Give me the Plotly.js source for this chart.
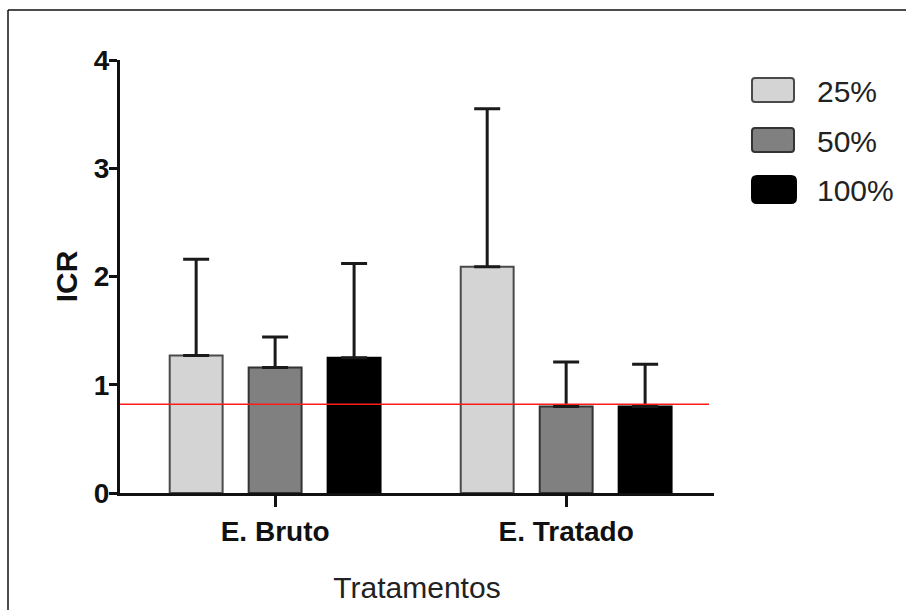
<!DOCTYPE html>
<html>
<head>
<meta charset="utf-8">
<script src="https://cdn.plot.ly/plotly-3.0.1.min.js"></script>
<style>
  html, body { margin: 0; padding: 0; background: #ffffff; }
  #chart { width: 906px; height: 610px; }
</style>
</head>
<body>
<div id="chart"></div>
<script>
// ---- data ----
const categories = ['E. Bruto', 'E. Tratado'];
const seriesNames = ['25%', '50%', '100%'];
const values25 = [1.27, 2.09];
const values50 = [1.16, 0.80];
const values100 = [1.25, 0.80];
const err25 = [0.89, 1.46];
const err50 = [0.28, 0.41];
const err100 = [0.87, 0.39];
const yTickVals = [0, 1, 2, 3, 4];
const yTickText = ['0', '1', '2', '3', '4'];
const refLine = 0.82;

// ---- styling ----
const W = 906, H = 610;
const M = { l: 120, r: 192, t: 60, b: 117 };
const PW = W - M.l - M.r, PH = H - M.t - M.b;
const px2x = p => (p - M.l) / PW;
const px2y = p => (H - M.b - p) / PH;
const FONT = '"Liberation Sans", Arial, Helvetica, sans-serif';

const fills = ['#d4d4d4', '#808080', '#000000'];
const borders = ['#4a4a4a', '#333333', '#000000'];
const vals = [values25, values50, values100];
const errs = [err25, err50, err100];

const traces = seriesNames.map((name, i) => ({
  type: 'bar',
  name: name,
  x: categories,
  y: vals[i],
  marker: { color: fills[i], line: { color: borders[i], width: 2 } },
  error_y: {
    type: 'data', symmetric: false, array: errs[i], arrayminus: errs[i].map(() => 0),
    color: '#1a1a1a', thickness: 3, width: 13
  },
  showlegend: false
}));

// legend built from series names / colors
const legendBoxes = [[78, 102], [128, 152], [176, 203]];
const legendCenters = [92, 141, 191];
const shapes = [];
const annotations = [];
function roundRect(x0, y0, x1, y1, r) {
  const X = p => px2x(p), Y = p => px2y(p);
  return `M${X(x0 + r)},${Y(y0)} L${X(x1 - r)},${Y(y0)} Q${X(x1)},${Y(y0)} ${X(x1)},${Y(y0 + r)} ` +
         `L${X(x1)},${Y(y1 - r)} Q${X(x1)},${Y(y1)} ${X(x1 - r)},${Y(y1)} ` +
         `L${X(x0 + r)},${Y(y1)} Q${X(x0)},${Y(y1)} ${X(x0)},${Y(y1 - r)} ` +
         `L${X(x0)},${Y(y0 + r)} Q${X(x0)},${Y(y0)} ${X(x0 + r)},${Y(y0)} Z`;
}
seriesNames.forEach((name, i) => {
  shapes.push({
    type: 'path', xref: 'paper', yref: 'paper',
    path: roundRect(752, legendBoxes[i][0], i === 2 ? 796 : 794, legendBoxes[i][1], i === 2 ? 5 : 3),
    fillcolor: fills[i], line: { color: borders[i], width: 2 }
  });
  annotations.push({
    xref: 'paper', yref: 'paper', x: px2x(815), y: px2y(legendCenters[i]),
    xanchor: 'left', yanchor: 'middle', showarrow: false, text: name,
    font: { family: FONT, size: 30, color: '#222222' }
  });
});

// reference line
shapes.push({
  type: 'line', xref: 'paper', yref: 'y', x0: 0, x1: px2x(709), y0: refLine, y1: refLine,
  line: { color: '#ff1a1a', width: 1.5 }, layer: 'above'
});

// image frame (top and left edges)
shapes.push({
  type: 'line', xref: 'paper', yref: 'paper', x0: px2x(8), x1: px2x(906), y0: px2y(10), y1: px2y(10),
  line: { color: '#111111', width: 1.5 }
});
shapes.push({
  type: 'line', xref: 'paper', yref: 'paper', x0: px2x(8), x1: px2x(8), y0: px2y(10), y1: px2y(612),
  line: { color: '#111111', width: 1.5 }
});

const layout = {
  width: W, height: H,
  margin: M,
  paper_bgcolor: '#ffffff', plot_bgcolor: '#ffffff',
  barmode: 'group', bargap: 0.186, bargroupgap: 0.33,
  showlegend: false,
  font: { family: FONT, color: '#111111' },
  xaxis: {
    type: 'category', range: [-0.533, 1.508],
    showline: true, linecolor: '#111111', linewidth: 3,
    ticks: 'outside', ticklen: 11, tickwidth: 3, tickcolor: '#111111',
    tickfont: { family: FONT, size: 28, color: '#111111', weight: 'bold' },
    showgrid: false, zeroline: false, fixedrange: true,
    title: { text: 'Tratamentos', font: { family: FONT, size: 30, color: '#222222' }, standoff: 32 }
  },
  yaxis: {
    range: [0, 4], tickvals: yTickVals, ticktext: yTickText,
    showline: true, linecolor: '#111111', linewidth: 3,
    ticks: 'outside', ticklen: 8, tickwidth: 3, tickcolor: '#111111',
    ticklabelstandoff: -6,
    tickfont: { family: FONT, size: 28, color: '#111111', weight: 'bold' },
    showgrid: false, zeroline: false, fixedrange: true,
    title: { text: 'ICR', font: { family: FONT, size: 30, color: '#111111', weight: 'bold' }, standoff: 8 }
  },
  shapes: shapes,
  annotations: annotations
};

Plotly.newPlot('chart', traces, layout, { displayModeBar: false, staticPlot: true });
</script>
</body>
</html>
